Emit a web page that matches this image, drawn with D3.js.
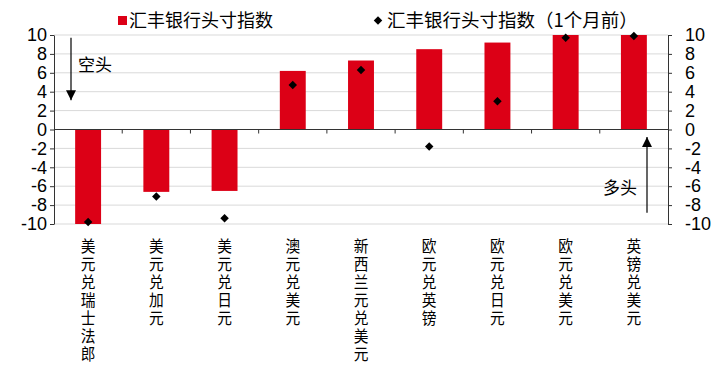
<!DOCTYPE html>
<html>
<head>
<meta charset="utf-8">
<script src="https://cdn.jsdelivr.net/npm/d3@7"></script>
<style>
  body { margin: 0; background: #fff; }
  svg { display: block; }
  text { fill: #000; }
</style>
</head>
<body>
<svg id="chart" width="722" height="377"></svg>
<script>
// data
const categories = ['美元兑瑞士法郎', '美元兑加元', '美元兑日元', '澳元兑美元', '新西兰元兑美元',
  '欧元兑英镑', '欧元兑日元', '欧元兑美元', '英镑兑美元'];
const currentIndex = [-10, -6.6, -6.5, 6.2, 7.3, 8.5, 9.2, 10, 10];
const monthAgoIndex = [-9.8, -7.1, -9.4, 4.7, 6.3, -1.8, 3.0, 9.7, 9.9];
const yTicks = [-10, -8, -6, -4, -2, 0, 2, 4, 6, 8, 10];
const seriesNames = ['汇丰银行头寸指数', '汇丰银行头寸指数（1个月前）'];

const cjk = '"Noto Sans CJK SC", "Noto Sans", sans-serif';
const num = '"Liberation Sans", Arial, sans-serif';
const red = '#dc0016';

const svg = d3.select('#chart');
const plotLeft = 54, plotRight = 668, plotTop = 35, plotBottom = 224;

const x = d3.scaleBand().domain(categories).range([plotLeft, plotRight])
  .paddingInner(0.62).paddingOuter(0.31);
const y = d3.scaleLinear().domain([-10, 10]).range([plotBottom, plotTop]);
const step = x.step();

// gridlines
svg.append('g').selectAll('line').data(yTicks.filter(d => d !== 0)).join('line')
  .attr('x1', plotLeft).attr('x2', plotRight)
  .attr('y1', d => y(d)).attr('y2', d => y(d))
  .attr('stroke', '#d9d9d9').attr('stroke-width', 1);

// bars
svg.append('g').selectAll('rect').data(categories).join('rect')
  .attr('x', d => x(d))
  .attr('width', x.bandwidth())
  .attr('y', (d, i) => y(Math.max(0, currentIndex[i])))
  .attr('height', (d, i) => Math.abs(y(currentIndex[i]) - y(0)))
  .attr('fill', red);

// axes (plain hyphen for negatives, like the reference)
const fmt = d => String(d);
const yLeft = svg.append('g').attr('transform', `translate(${plotLeft},0)`)
  .call(d3.axisLeft(y).tickValues(yTicks).tickFormat(fmt).tickSize(4).tickSizeOuter(0).tickPadding(3));
const yRight = svg.append('g').attr('transform', `translate(${plotRight},0)`)
  .call(d3.axisRight(y).tickValues(yTicks).tickFormat(fmt).tickSize(4).tickSizeOuter(0).tickPadding(13));
[yLeft, yRight].forEach(g => {
  g.selectAll('path, line').attr('stroke', '#333');
  g.selectAll('text').attr('font-family', num).attr('font-size', 18).attr('fill', '#000');
});
yRight.selectAll('text').attr('text-anchor', 'start');

// zero line with category boundary ticks
svg.append('line').attr('x1', plotLeft).attr('x2', plotRight)
  .attr('y1', y(0)).attr('y2', y(0)).attr('stroke', '#333');
svg.append('g').selectAll('line').data(d3.range(1, categories.length)).join('line')
  .attr('x1', i => plotLeft + i * step).attr('x2', i => plotLeft + i * step)
  .attr('y1', y(0)).attr('y2', y(0) + 4).attr('stroke', '#333');

// month-ago markers
const diamond = d3.symbol().type(d3.symbolSquare).size(36);
svg.append('g').selectAll('path').data(categories).join('path')
  .attr('d', diamond)
  .attr('transform', (d, i) => `translate(${x(d) + x.bandwidth() / 2},${y(monthAgoIndex[i])}) rotate(45)`)
  .attr('fill', '#000');

// category labels, one character per line
const labels = svg.append('g').selectAll('g').data(categories).join('g')
  .attr('transform', d => `translate(${x(d) + x.bandwidth() / 2},237) scale(0.92,1)`);
labels.each(function(d) {
  d3.select(this).selectAll('text').data(Array.from(d)).join('text')
    .attr('x', 0).attr('y', (c, j) => j * 18 + 15)
    .attr('text-anchor', 'middle')
    .attr('font-family', cjk).attr('font-size', 16)
    .text(c => c);
});

// legend
const legend = svg.append('g');
legend.append('rect').attr('x', 118).attr('y', 16).attr('width', 9).attr('height', 9).attr('fill', red);
legend.append('text').attr('x', 129).attr('y', 27)
  .attr('font-family', cjk).attr('font-size', 18).text(seriesNames[0]);
legend.append('path').attr('d', diamond)
  .attr('transform', 'translate(378,20.5) rotate(45)').attr('fill', '#000');
legend.append('text').attr('x', 387).attr('y', 27)
  .attr('font-family', cjk).attr('font-size', 18.5).text(seriesNames[1]);

// short / long annotations
const defs = svg.append('defs');
defs.append('marker').attr('id', 'head').attr('viewBox', '0 0 10 10')
  .attr('refX', 10).attr('refY', 5).attr('markerWidth', 10).attr('markerHeight', 10)
  .attr('markerUnits', 'userSpaceOnUse').attr('orient', 'auto')
  .append('path').attr('d', 'M0,0L10,5L0,10Z').attr('fill', '#000');

svg.append('line').attr('x1', 71).attr('x2', 71).attr('y1', y(9.7)).attr('y2', y(3.1))
  .attr('stroke', '#000').attr('stroke-width', 1.2).attr('marker-end', 'url(#head)');
svg.append('text').attr('x', 78).attr('y', 71)
  .attr('font-family', cjk).attr('font-size', 17).text('空头');

svg.append('line').attr('x1', 647).attr('x2', 647).attr('y1', y(-8.8)).attr('y2', y(-0.8))
  .attr('stroke', '#000').attr('stroke-width', 1.2).attr('marker-end', 'url(#head)');
svg.append('text').attr('x', 603).attr('y', 194)
  .attr('font-family', cjk).attr('font-size', 17).text('多头');
</script>
</body>
</html>
